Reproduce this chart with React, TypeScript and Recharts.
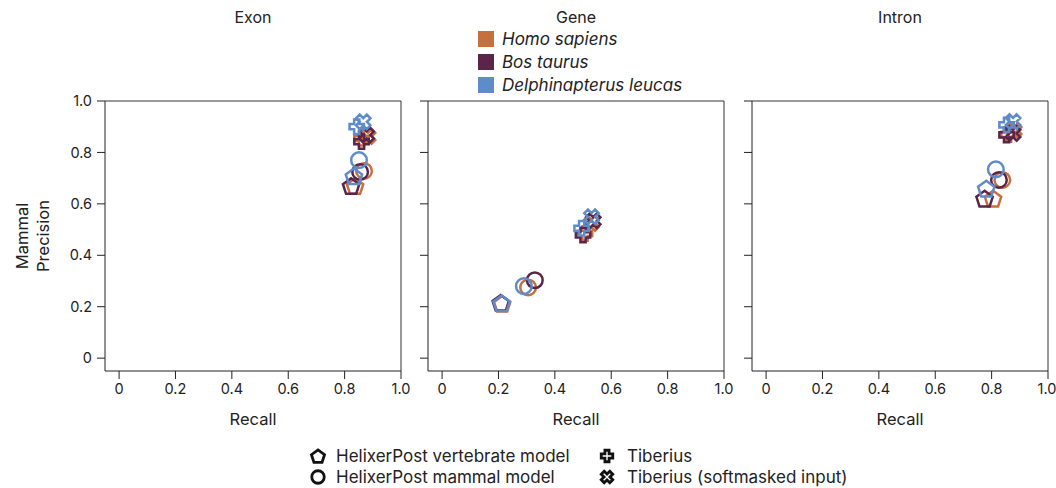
import React from 'react';
import { ScatterChart, Scatter, XAxis, YAxis, ReferenceLine } from 'recharts';

const species = ['Homo sapiens', 'Bos taurus', 'Delphinapterus leucas'];
const speciesColors = ['#C4703F', '#5A2549', '#5F8BC9'];
const methods = ['HelixerPost vertebrate model', 'HelixerPost mammal model', 'Tiberius', 'Tiberius (softmasked input)'];
const methodShapes = ['pentagon', 'circle', 'plus', 'cross'];
const panelTitles = ['Exon', 'Gene', 'Intron'];
const axisTicks = [0, 0.2, 0.4, 0.6, 0.8, 1.0];

// values ordered as methods: vertebrate, mammal, Tiberius, Tiberius (softmasked)
const exonHomoRecall = [0.837, 0.869, 0.86, 0.883];
const exonHomoPrecision = [0.67, 0.728, 0.855, 0.862];
const exonBosRecall = [0.823, 0.855, 0.86, 0.878];
const exonBosPrecision = [0.67, 0.724, 0.842, 0.868];
const exonDelphRecall = [0.833, 0.851, 0.843, 0.866];
const exonDelphPrecision = [0.708, 0.77, 0.9, 0.919];

const geneHomoRecall = [0.213, 0.305, 0.507, 0.53];
const geneHomoPrecision = [0.212, 0.275, 0.485, 0.524];
const geneBosRecall = [0.208, 0.329, 0.5, 0.536];
const geneBosPrecision = [0.216, 0.303, 0.479, 0.534];
const geneDelphRecall = [0.211, 0.29, 0.495, 0.53];
const geneDelphPrecision = [0.214, 0.28, 0.505, 0.55];

const intronHomoRecall = [0.805, 0.838, 0.86, 0.88];
const intronHomoPrecision = [0.621, 0.693, 0.87, 0.885];
const intronBosRecall = [0.775, 0.826, 0.853, 0.876];
const intronBosPrecision = [0.621, 0.693, 0.868, 0.874];
const intronDelphRecall = [0.781, 0.815, 0.853, 0.876];
const intronDelphPrecision = [0.66, 0.734, 0.907, 0.92];

const panelRecall = [
  [exonHomoRecall, exonBosRecall, exonDelphRecall],
  [geneHomoRecall, geneBosRecall, geneDelphRecall],
  [intronHomoRecall, intronBosRecall, intronDelphRecall],
];
const panelPrecision = [
  [exonHomoPrecision, exonBosPrecision, exonDelphPrecision],
  [geneHomoPrecision, geneBosPrecision, geneDelphPrecision],
  [intronHomoPrecision, intronBosPrecision, intronDelphPrecision],
];

const FONT = 'Inter, "Noto Sans", sans-serif';
const INK = '#222';

function crossPoints(cx: number, cy: number, a: number, b: number, rot: number) {
  const pts = [
    [-a, -b], [a, -b], [a, -a], [b, -a], [b, a], [a, a],
    [a, b], [-a, b], [-a, a], [-b, a], [-b, -a], [-a, -a],
  ];
  const c = Math.cos(rot), s = Math.sin(rot);
  return pts.map(([x, y]) => `${cx + x * c - y * s},${cy + x * s + y * c}`).join(' ');
}

function Marker({ type, cx, cy, color, scale = 1, sw = 2.5 }: { type: string; cx: number; cy: number; color: string; scale?: number; sw?: number }) {
  if (type === 'circle') {
    return <circle cx={cx} cy={cy} r={7.8 * scale} fill="none" stroke={color} strokeWidth={sw} />;
  }
  if (type === 'pentagon') {
    const R = 8.6 * scale;
    const pts = [0, 1, 2, 3, 4]
      .map((k) => {
        const ang = (-90 + 72 * k) * (Math.PI / 180);
        return `${cx + R * Math.cos(ang)},${cy + 1 * scale + R * Math.sin(ang)}`;
      })
      .join(' ');
    return <polygon points={pts} fill="none" stroke={color} strokeWidth={sw} strokeLinejoin="miter" />;
  }
  if (type === 'plus') {
    return <polygon points={crossPoints(cx, cy, 2.6 * scale, 7.2 * scale, 0)} fill="none" stroke={color} strokeWidth={sw} />;
  }
  return <polygon points={crossPoints(cx, cy, 2.6 * scale, 7.6 * scale, Math.PI / 4)} fill="none" stroke={color} strokeWidth={sw} />;
}

const fmt = (v: number) => (v === 0 ? '0' : v.toFixed(1));
const blank = () => '';

const chartLayouts = [
  { left: 0, width: 420, yWidth: 105, right: 19 },
  { left: 410, width: 330, yWidth: 18, right: 16 },
  { left: 734, width: 322, yWidth: 18, right: 8 },
];

function Panel({ idx }: { idx: number }) {
  const lay = chartLayouts[idx];
  const series: React.ReactNode[] = [];
  species.forEach((sp, si) => {
    methods.forEach((m, mi) => {
      const data = [{ x: panelRecall[idx][si][mi], y: panelPrecision[idx][si][mi] }];
      series.push(
        <Scatter
          key={`${sp}-${m}`}
          name={`${sp} ${m}`}
          data={data}
          isAnimationActive={false}
          shape={(p: any) => <Marker type={methodShapes[mi]} cx={p.cx} cy={p.cy} color={speciesColors[si]} />}
        />
      );
    });
  });
  return (
    <div style={{ position: 'absolute', left: lay.left, top: 0 }}>
      <ScatterChart width={lay.width} height={488} margin={{ top: 101, right: lay.right, bottom: 67, left: 0 }}>
        <XAxis
          type="number"
          dataKey="x"
          domain={[-0.05, 1]}
          ticks={axisTicks}
          tickFormatter={fmt}
          allowDataOverflow
          height={50}
          tickSize={8}
          tickMargin={5}
          stroke={INK}
          tick={{ fill: INK, fontSize: 14.5, fontFamily: FONT }}
        />
        <YAxis
          type="number"
          dataKey="y"
          domain={[-0.05, 1]}
          ticks={axisTicks}
          tickFormatter={idx === 0 ? fmt : blank}
          allowDataOverflow
          width={lay.yWidth}
          tickSize={8}
          tickMargin={5}
          stroke={INK}
          tick={{ fill: INK, fontSize: 14.5, fontFamily: FONT }}
        />
        <ReferenceLine y={1} stroke="#333" strokeWidth={1} ifOverflow="extendDomain" />
        <ReferenceLine x={1} stroke="#333" strokeWidth={1} ifOverflow="extendDomain" />
        {series}
      </ScatterChart>
    </div>
  );
}

const plotCenters = [253, 576, 900];

export default function App() {
  return (
    <div style={{ position: 'fixed', left: 0, top: 0, width: 1056, height: 488, background: '#fff', fontFamily: FONT, color: INK, overflow: 'hidden' }}>
      {[0, 1, 2].map((i) => (
        <Panel key={i} idx={i} />
      ))}
      {panelTitles.map((t, i) => (
        <div key={t} style={{ position: 'absolute', left: plotCenters[i], top: 7, lineHeight: '20px', fontSize: 16, transform: 'translateX(-50%)', whiteSpace: 'nowrap' }}>
          {t}
        </div>
      ))}
      {plotCenters.map((c, i) => (
        <div key={i} style={{ position: 'absolute', left: c, top: 409, lineHeight: '20px', fontSize: 16.5, transform: 'translateX(-50%)', whiteSpace: 'nowrap' }}>
          Recall
        </div>
      ))}
      <div style={{ position: 'absolute', left: 33, top: 236, lineHeight: '21px', fontSize: 16.5, textAlign: 'center', transform: 'translate(-50%, -50%) rotate(-90deg)', whiteSpace: 'nowrap' }}>
        Mammal
        <br />
        Precision
      </div>
      {species.map((sp, i) => (
        <React.Fragment key={sp}>
          <div style={{ position: 'absolute', left: 478, top: 31 + i * 23, width: 16, height: 16, background: speciesColors[i] }} />
          <div style={{ position: 'absolute', left: 502, top: 29 + i * 23, lineHeight: '20px', fontSize: 17, fontStyle: 'italic', whiteSpace: 'nowrap' }}>
            {sp}
          </div>
        </React.Fragment>
      ))}
      {methods.map((m, i) => {
        const col = i < 2 ? 0 : 1;
        const row = i % 2;
        const mx = col === 0 ? 318 : 607;
        const tx = col === 0 ? 336 : 627;
        const cy = 456 + row * 21;
        return (
          <React.Fragment key={m}>
            <svg style={{ position: 'absolute', left: mx - 10, top: cy - 10 }} width={20} height={20}>
              <Marker type={methodShapes[i]} cx={10} cy={10} color="#111" scale={0.8} sw={2.8} />
            </svg>
            <div style={{ position: 'absolute', left: tx, top: cy - 10, lineHeight: '20px', fontSize: 17, whiteSpace: 'nowrap' }}>{m}</div>
          </React.Fragment>
        );
      })}
    </div>
  );
}
